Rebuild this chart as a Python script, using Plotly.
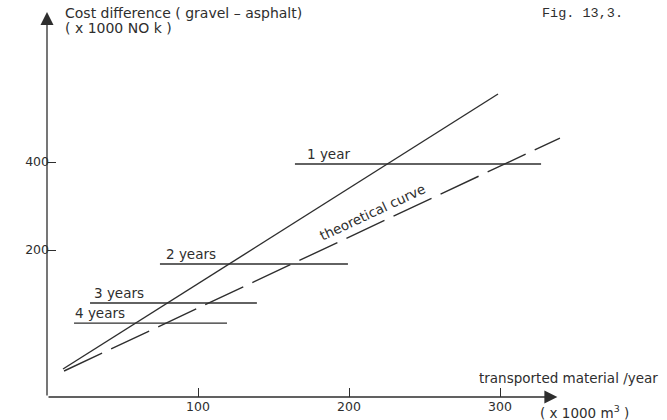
import plotly.graph_objects as go

# Observed cost difference vs. transported material (solid) and the theoretical curve (dashed)
observed_x = [10.6, 298.7]
observed_y = [-70.5, 554.5]
theory_x = [11.3, 339.7]
theory_y = [-75.0, 454.5]

# Pay-back period levels
payback_labels = ["1 year", "2 years", "3 years", "4 years"]
payback_level = [395.5, 168.2, 79.5, 34.0]
payback_from = [164.2, 74.8, 28.5, 17.9]
payback_to = [327.2, 199.3, 139.0, 119.2]

x_ticks = [100, 200, 300]
y_ticks = [200, 400]

INK = "#2e2e2e"
FONT = "DejaVu Sans"
FS = 13.5

X_RANGE = [0, 410.6]
Y_RANGE = [-134.1, 768.2]

fig = go.Figure()

fig.add_trace(go.Scatter(x=observed_x, y=observed_y, mode="lines",
                         line=dict(color=INK, width=1.4), showlegend=False, hoverinfo="skip"))
fig.add_trace(go.Scatter(x=theory_x, y=theory_y, mode="lines",
                         line=dict(color=INK, width=1.4, dash="42px,10px"),
                         showlegend=False, hoverinfo="skip"))

label_xshift = [10, 4, 2, -1]
for lab, lvl, x0, x1, dx in zip(payback_labels, payback_level, payback_from, payback_to, label_xshift):
    fig.add_trace(go.Scatter(x=[x0, x1], y=[lvl, lvl], mode="lines",
                             line=dict(color=INK, width=1.3), showlegend=False, hoverinfo="skip"))
    fig.add_annotation(x=x0, y=lvl, text=lab, showarrow=False, xanchor="left", yanchor="bottom",
                       xshift=dx, yshift=0, font=dict(family=FONT, size=FS, color=INK))

fig.add_annotation(x=215.5, y=287, text="theoretical curve", showarrow=False, textangle=-25,
                   font=dict(family=FONT, size=FS, color=INK))

# Axis lines with arrowheads
fig.add_annotation(x=0, y=741, ax=0, ay=Y_RANGE[0], xref="x", yref="y", axref="x", ayref="y",
                   showarrow=True, arrowhead=2, arrowsize=2, arrowwidth=1.3, arrowcolor=INK, text="")
fig.add_annotation(x=338, y=Y_RANGE[0], ax=0, ay=Y_RANGE[0], xref="x", yref="y", axref="x", ayref="y",
                   showarrow=True, arrowhead=2, arrowsize=2, arrowwidth=1.3, arrowcolor=INK, text="")

# Axis titles and figure number
fig.add_annotation(x=10.6, y=738.6, text="Cost difference ( gravel \u2013 asphalt)", showarrow=False,
                   xanchor="left", font=dict(family=FONT, size=14, color=INK))
fig.add_annotation(x=10.6, y=704.5, text="( x 1000 NO k )", showarrow=False,
                   xanchor="left", font=dict(family=FONT, size=14, color=INK))
fig.add_annotation(x=326.5, y=738.6, text="Fig. 13,3.", showarrow=False,
                   xanchor="left", font=dict(family="Liberation Mono", size=13.5, color=INK))
fig.add_annotation(x=406, y=(338 - 378) / 0.44, text="transported material /year", showarrow=False,
                   xanchor="right", font=dict(family=FONT, size=FS, color=INK))
fig.add_annotation(x=325, y=-134.1, yshift=-15, text="( x 1000 m<sup>3</sup> )", showarrow=False,
                   xanchor="left", font=dict(family=FONT, size=FS, color=INK))

fig.update_layout(
    width=667, height=420,
    margin=dict(l=47, r=0, t=0, b=23),
    paper_bgcolor="white", plot_bgcolor="white",
    xaxis=dict(range=X_RANGE, tickvals=x_ticks, ticks="inside", ticklen=9, tickcolor=INK,
               tickwidth=1.3, showline=False, showgrid=False, zeroline=False,
               tickfont=dict(family=FONT, size=12.5, color=INK)),
    yaxis=dict(range=Y_RANGE, tickvals=y_ticks, ticks="inside", ticklen=9, tickcolor=INK,
               tickwidth=1.3, showline=False, showgrid=False, zeroline=False,
               ticklabelstandoff=-3,
               tickfont=dict(family=FONT, size=12.5, color=INK)),
)

fig.write_html("out.html")
